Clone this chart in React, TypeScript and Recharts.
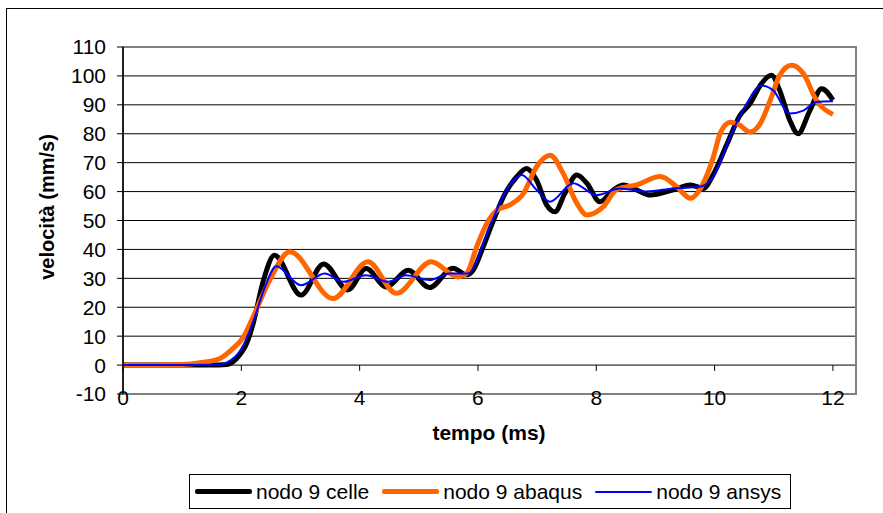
import React from 'react';
import { LineChart, Line, XAxis, YAxis, CartesianGrid, ReferenceArea, ReferenceLine } from 'recharts';

// Velocity histories of node 9 (time in ms, velocity in mm/s)
const celleTime = [0, 1.0, 1.5, 1.75, 1.92, 2.09, 2.2, 2.37, 2.56, 3.01, 3.39, 3.8, 4.11, 4.45, 4.82, 5.18, 5.58, 5.81, 5.92, 6.09, 6.26, 6.46, 6.66, 6.82, 6.99, 7.16, 7.3, 7.47, 7.67, 7.84, 8.06, 8.29, 8.46, 8.68, 8.91, 9.3, 9.59, 9.81, 9.98, 10.2, 10.43, 10.6, 10.79, 10.96, 11.1, 11.27, 11.41, 11.61, 11.81, 12.0];
const celleVel = [0, 0, 0, 0.2, 2.3, 7.5, 14.4, 29, 38, 24.2, 35, 26, 33.4, 27, 32.8, 26.8, 33.5, 31.2, 32.9, 41, 50, 59.4, 65.2, 68, 64, 55.4, 53, 59.4, 65.7, 62.9, 56.5, 60.6, 62.3, 60.6, 58.8, 60.6, 62.3, 61.1, 66, 76, 86.4, 90.4, 97.3, 100.2, 95, 84.7, 80, 88, 95.6, 91.6];

const abaqusTime = [0, 1.0, 1.3, 1.64, 1.86, 2.03, 2.2, 2.48, 2.82, 3.55, 4.14, 4.62, 5.21, 5.66, 5.81, 5.98, 6.15, 6.32, 6.54, 6.77, 6.99, 7.22, 7.44, 7.67, 7.84, 8.12, 8.34, 8.68, 9.08, 9.36, 9.59, 9.81, 9.98, 10.1, 10.27, 10.42, 10.6, 10.77, 10.94, 11.1, 11.3, 11.5, 11.72, 12.0];
const abaqusVel = [0, 0.2, 0.8, 2.3, 5.8, 9.5, 16.7, 29.4, 39.2, 23, 35.7, 24.8, 35.7, 30.5, 31.8, 41, 49, 53.6, 55.4, 59.4, 68.6, 72.6, 66.3, 56, 51.9, 54.8, 60.6, 62.3, 65.2, 61.7, 57.7, 62.9, 72, 80.5, 84, 83, 80.6, 83.5, 91.6, 100.2, 103.7, 100.8, 91.6, 86.7];

const ansysTime = [0, 1.0, 1.6, 1.9, 2.05, 2.2, 2.4, 2.59, 3.01, 3.41, 3.72, 4.11, 4.48, 4.79, 5.18, 5.52, 5.83, 6.2, 6.48, 6.74, 6.99, 7.22, 7.61, 8.01, 8.4, 8.85, 9.3, 9.75, 9.98, 10.26, 10.54, 10.79, 10.99, 11.27, 11.5, 11.72, 12.0];
const ansysVel = [0, 0, 0.1, 3, 7.5, 15, 27, 34.2, 27.6, 31.7, 28.8, 31.1, 28.8, 31.1, 29.4, 31.7, 31.7, 47.9, 60.6, 65.7, 60.6, 56.5, 62.9, 58.8, 61.1, 60, 61.1, 61.7, 65.2, 78.9, 90.4, 96.7, 95, 87, 88, 91, 91.2];

const seriesNames = ['nodo 9 celle', 'nodo 9 abaqus', 'nodo 9 ansys'];
const seriesColors = ['#000000', '#FF6600', '#0000FF'];
const seriesWidths = [5, 5, 2];

const xTicks = [0, 2, 4, 6, 8, 10, 12];
const yTicks = [-10, 0, 10, 20, 30, 40, 50, 60, 70, 80, 90, 100, 110];
const xMax = 12.39;

const toPoints = (t: number[], v: number[]) => t.map((x, i) => ({ t: x, v: v[i] }));
const seriesData = [
  toPoints(celleTime, celleVel),
  toPoints(abaqusTime, abaqusVel),
  toPoints(ansysTime, ansysVel),
];

const FONT = '"Liberation Sans", Arial, sans-serif';

const XTick = (props: any) => {
  const { x, y, payload } = props;
  return (
    <text x={x} y={y + 11} textAnchor="middle" fontFamily={FONT} fontSize={21} fill="#000">
      {payload.value}
    </text>
  );
};

export default function App() {
  return (
    <div style={{ position: 'fixed', left: 0, top: 0, width: 883, height: 513, overflow: 'hidden', background: '#fff' }}>
      <div style={{ position: 'absolute', left: 6, top: 8, width: 1000, height: 1000, border: '1px solid #000', boxSizing: 'border-box' }} />
      <div style={{ position: 'absolute', left: 0, top: 0 }}>
        <LineChart width={883} height={513} margin={{ top: 47, right: 27, left: 63, bottom: 89 }}>
          <CartesianGrid horizontal vertical={false} stroke="#000" strokeWidth={1} />
          <XAxis
            dataKey="t"
            type="number"
            domain={[0, xMax]}
            ticks={xTicks}
            allowDataOverflow
            axisLine={false}
            tickLine={false}
            tickSize={0}
            tickMargin={0}
            height={30}
            tick={<XTick />}
            interval={0}
          />
          <YAxis
            type="number"
            domain={[-10, 110]}
            ticks={yTicks}
            interval={0}
            width={60}
            axisLine={{ stroke: '#000', strokeWidth: 1.5 }}
            tickLine={{ stroke: '#000' }}
            tickSize={6}
            tickMargin={11}
            tick={{ fontFamily: FONT, fontSize: 21, fill: '#000' }}
            label={{
              content: () => (
                <text
                  x={47}
                  y={207}
                  transform="rotate(-90 47 207)"
                  textAnchor="middle"
                  dominantBaseline="central"
                  fontFamily={FONT}
                  fontSize={20}
                  fontWeight="bold"
                  fill="#000"
                >
                  velocità (mm/s)
                </text>
              ),
            }}
          />
          <ReferenceArea x1={0} x2={xMax} y1={-10} y2={110} fill="none" stroke="#808080" strokeWidth={2} />
          {xTicks.map((t) => (
            <ReferenceLine
              key={'tk' + t}
              segment={[{ x: t, y: 0 }, { x: t, y: -2 }]}
              stroke="#000"
              strokeWidth={1}
            />
          ))}
          {seriesData.map((d, i) => (
            <Line
              key={seriesNames[i]}
              data={d}
              dataKey="v"
              type="monotone"
              stroke={seriesColors[i]}
              strokeWidth={seriesWidths[i]}
              dot={false}
              activeDot={false}
              isAnimationActive={false}
              name={seriesNames[i]}
            />
          ))}
        </LineChart>
      </div>
      <div
        style={{
          position: 'absolute',
          left: 489,
          top: 420,
          transform: 'translateX(-50%)',
          fontFamily: FONT,
          fontSize: 21,
          fontWeight: 'bold',
          lineHeight: '26px',
          whiteSpace: 'nowrap',
        }}
      >
        tempo (ms)
      </div>
      <div
        style={{
          position: 'absolute',
          left: 189,
          top: 474,
          width: 602,
          height: 35,
          border: '1px solid #000',
          boxSizing: 'border-box',
          display: 'flex',
          alignItems: 'center',
          paddingLeft: 5,
          fontFamily: FONT,
          fontSize: 21,
          whiteSpace: 'nowrap',
        }}
      >
        {seriesNames.map((n, i) => (
          <div key={n} style={{ display: 'flex', alignItems: 'center', marginRight: 13 }}>
            <div style={{ width: 57, height: seriesWidths[i], background: seriesColors[i], borderRadius: 2, marginRight: 4 }} />
            <span>{n}</span>
          </div>
        ))}
      </div>
    </div>
  );
}
